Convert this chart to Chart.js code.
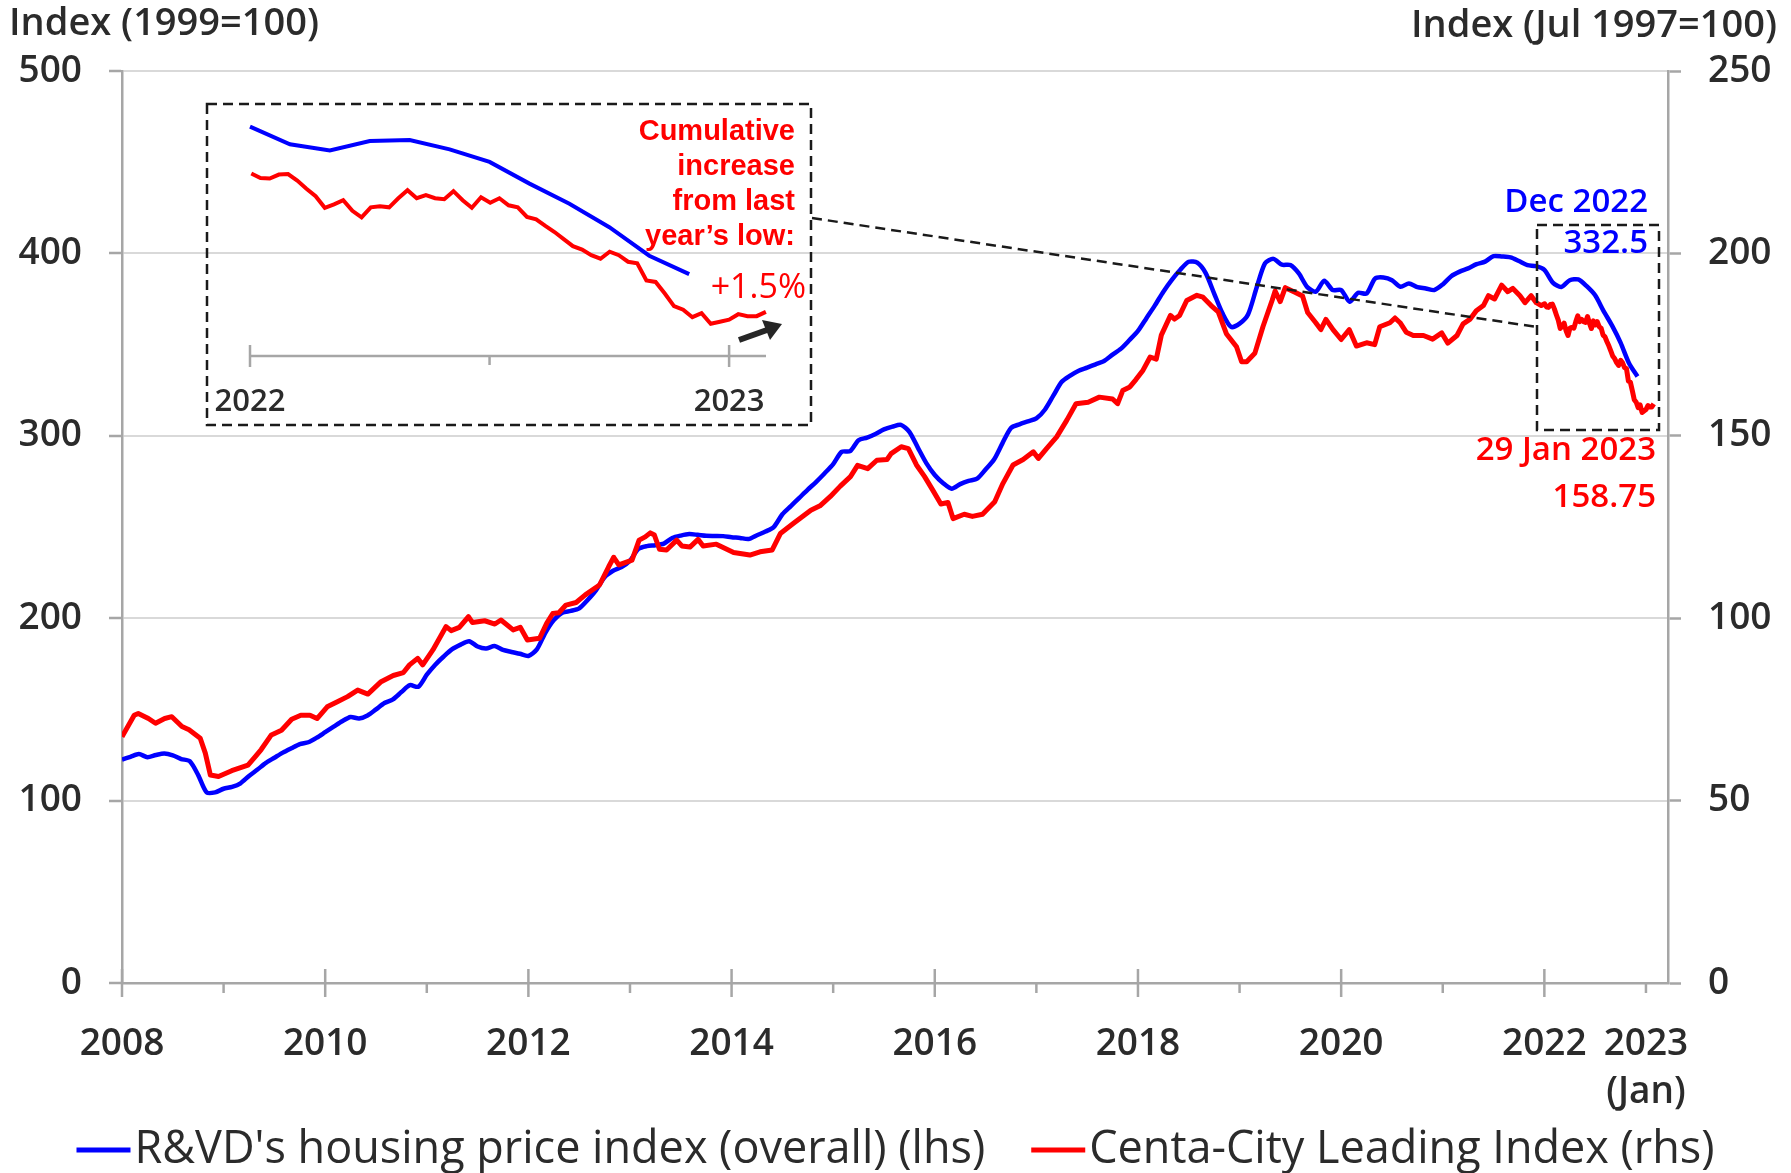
<!DOCTYPE html>
<html lang="en">

<head>
    <meta charset="UTF-8">
    <title>Hong Kong housing price indices</title>
    <script src="https://cdn.jsdelivr.net/npm/chart.js"></script>
    <style>
        body {
            margin: 0;
            background: #ffffff;
        }

        #wrap {
            position: relative;
            width: 1791px;
            height: 1173px;
        }

        #wrap canvas {
            position: absolute;
        }

        #main {
            left: 0;
            top: 0;
        }

        #inset {
            left: 207px;
            top: 104px;
        }
    </style>
</head>

<body>
    <div id="wrap">
        <canvas id="main" width="1791" height="1173"></canvas>
        <canvas id="inset" width="604" height="321"></canvas>
    </div>

    <script>
        // R&VD housing price index (overall), monthly, Jan 2008 - Dec 2022 (lhs, 1999=100)
        const blueStart = 2008;
        const blueValues = [
            122.5, 124, 125.5, 123.8, 125, 125.8, 124.8, 122.8, 121.6, 114, 104.5, 104.5,
            106.5, 107.5, 109.5, 113.5, 117, 120.7, 123.5, 126.3, 128.7, 131, 132, 134.5,
            137.5, 140.5, 143.5, 145.8, 145, 146.7, 150, 153.5, 155.5, 159.5, 163.3, 162.4,
            169, 174.5, 179, 183, 185.5, 187.4, 184.5, 183.4, 184.7, 182.6, 181.5, 180.5,
            179.3, 182.9, 192, 199, 203, 204, 205.4, 210, 215.4, 222.5, 226, 228,
            231.5, 238, 239.5, 240, 240.9, 244, 245.3, 246.1, 245.7, 245.2, 245.1, 245,
            244.4, 244, 243.4, 245.5, 247.5, 250.1, 257, 261.5, 266, 270.5, 274.8, 279.5,
            284.5, 291.2, 291.6, 297.6, 299, 301, 303.5, 305, 306, 302.2, 293.5, 285,
            278.5, 274, 271, 273.5, 275.3, 276.5, 281.5, 287, 296, 304.3, 306.3, 307.9,
            309.5, 314.3, 322, 329.6, 333, 335.7, 337.4, 339.2, 341, 344.5, 347.8, 352.5,
            357.5, 364.5, 371.5, 379, 385.5, 391, 395.4, 394.9, 389.2, 378, 367, 359.7,
            361.5, 366.5, 381, 394.5, 397, 393.8, 393.6, 389, 381.5, 379, 385, 379.9,
            379.9, 373.5, 378.4, 378, 386.2, 386.8, 385.3, 381.7, 383.5, 381.5, 380.8, 379.9,
            383, 387.5, 390, 391.8, 394.1, 395.5, 398.5, 398.3, 397.8, 395.8, 393.6, 393,
            391, 384, 381.6, 385.3, 385.7, 382, 377, 368.4, 360.4, 351.1, 339.8, 332.5
        ];

        // Centa-City Leading Index (rhs, Jul 1997=100), 2008 - 2021 readings (date as year fraction)
        const redX = [
            2008.00, 2008.12, 2008.16, 2008.26, 2008.33, 2008.42, 2008.49, 2008.59, 2008.66, 2008.77,
            2008.82, 2008.87, 2008.95, 2009.08, 2009.24, 2009.31, 2009.37, 2009.47, 2009.57, 2009.67,
            2009.76, 2009.85, 2009.92, 2010.02, 2010.12, 2010.22, 2010.32, 2010.42, 2010.55, 2010.67,
            2010.77, 2010.83, 2010.91, 2010.96, 2011.06, 2011.19, 2011.24, 2011.32, 2011.41, 2011.45,
            2011.57, 2011.67, 2011.73, 2011.85, 2011.92, 2011.99, 2012.11, 2012.18, 2012.24, 2012.30,
            2012.37, 2012.47, 2012.56, 2012.70, 2012.79, 2012.84, 2012.89, 2013.02, 2013.09, 2013.15,
            2013.20, 2013.24, 2013.29, 2013.36, 2013.46, 2013.51, 2013.59, 2013.67, 2013.72, 2013.85,
            2014.02, 2014.18, 2014.28, 2014.40, 2014.48, 2014.61, 2014.78, 2014.87, 2014.97, 2015.07,
            2015.17, 2015.24, 2015.34, 2015.43, 2015.53, 2015.57, 2015.67, 2015.74, 2015.82, 2015.90,
            2015.98, 2016.06, 2016.13, 2016.18, 2016.29, 2016.37, 2016.47, 2016.59, 2016.67, 2016.77,
            2016.87, 2016.97, 2017.02, 2017.10, 2017.20, 2017.30, 2017.39, 2017.51, 2017.62, 2017.75,
            2017.80, 2017.85, 2017.92, 2017.98, 2018.05, 2018.12, 2018.18, 2018.23, 2018.32, 2018.36,
            2018.41, 2018.48, 2018.58, 2018.64, 2018.72, 2018.79, 2018.87, 2018.97, 2019.02, 2019.07,
            2019.15, 2019.23, 2019.32, 2019.35, 2019.40, 2019.45, 2019.55, 2019.62, 2019.67, 2019.75,
            2019.80, 2019.85, 2019.92, 2020.00, 2020.08, 2020.15, 2020.25, 2020.33, 2020.38, 2020.48,
            2020.53, 2020.58, 2020.64, 2020.71, 2020.81, 2020.90, 2020.99, 2021.05, 2021.14, 2021.20,
            2021.27, 2021.33, 2021.40, 2021.45, 2021.51, 2021.58, 2021.64, 2021.69, 2021.76, 2021.81,
            2021.87, 2021.92, 2021.97
        ];
        const redY = [
            67.5, 73.4, 73.9, 72.5, 71.2, 72.5, 73.0, 70.3, 69.4, 67.1,
            63.0, 57.0, 56.6, 58.2, 59.7, 62.0, 64.0, 68.0, 69.3, 72.3,
            73.4, 73.4, 72.5, 75.7, 77.1, 78.5, 80.3, 79.2, 82.6, 84.3,
            85.1, 87.2, 89.0, 87.2, 91.3, 97.7, 96.6, 97.5, 100.4, 98.8,
            99.3, 98.4, 99.5, 96.8, 97.5, 94.0, 94.5, 98.6, 101.3, 101.5,
            103.6, 104.3, 106.4, 109.1, 114.1, 116.7, 114.6, 115.9, 121.4, 122.3,
            123.4, 122.8, 118.9, 118.7, 121.4, 119.8, 119.5, 121.6, 119.8, 120.3,
            118.0, 117.3, 118.2, 118.7, 123.2, 126.0, 129.6, 130.8, 133.3, 136.2,
            138.8, 141.9, 141.0, 143.3, 143.5, 145.1, 147.0, 146.5, 142.0, 138.8,
            135.1, 131.3, 131.7, 127.3, 128.5, 127.9, 128.5, 131.9, 136.9, 142.0,
            143.5, 145.6, 143.8, 146.5, 149.7, 154.3, 158.8, 159.2, 160.6, 160.1,
            158.8, 162.4, 163.4, 165.4, 168.0, 171.6, 171.0, 177.6, 183.0, 182.0,
            183.0, 187.1, 188.5, 188.0, 185.7, 184.0, 178.0, 174.4, 170.3, 170.3,
            172.6, 179.9, 187.1, 189.7, 186.8, 190.6, 189.3, 188.3, 183.8, 181.0,
            179.1, 181.9, 179.1, 176.4, 179.1, 174.6, 175.5, 175.0, 179.9, 181.0,
            182.3, 181.0, 178.4, 177.5, 177.5, 176.5, 178.2, 175.4, 177.5, 180.7,
            182.0, 184.3, 185.7, 188.4, 187.5, 191.3, 189.5, 190.4, 188.4, 186.5,
            188.4, 186.5, 185.7
        ];

        // weekly readings, 2 Jan 2022 to 29 Jan 2023
        const redWeeklyStartDay = 1; // day of year 2022 (2 Jan)
        const redWeekly = [
            186.2, 185.3, 185.2, 186.0, 186.1, 184.8, 183.2, 181.7, 179.4, 180.1,
            180.9, 178.8, 177.5, 179.5, 179.7, 179.5, 181.3, 182.9, 181.3, 181.9,
            181.3, 181.1, 182.7, 180.9, 179.4, 181.5, 180.4, 181.3, 179.9, 179.5,
            177.6, 177.1, 175.8, 174.6, 173.2, 171.8, 171.1, 170.0, 169.3, 170.7,
            170.0, 168.7, 168.4, 165.0, 164.7, 162.4, 159.9, 159.2, 157.7, 158.5,
            156.4, 156.8, 157.2, 158.3, 157.9, 157.9, 158.75
        ];

        const xTicks = [2008, 2009, 2010, 2011, 2012, 2013, 2014, 2015, 2016, 2017, 2018, 2019, 2020, 2021, 2022, 2023];
        const seriesLabels = ["R&VD's housing price index (overall) (lhs)", "Centa-City Leading Index (rhs)"];

        const BLUE = '#0000ff';
        const RED = '#ff0000';
        const AXIS = '#a6a6a6';
        const GRID = '#d9d9d9';
        const TEXT = '#2b2b2b';
        const FONT = '"Open Sans", "Noto Sans", sans-serif';

        const bluePoints = blueValues.map((v, i) => ({ x: blueStart + i / 12, y: v }));
        const redWeeklyPoints = redWeekly.map((v, i) => ({ x: 2022 + (redWeeklyStartDay + 7 * i) / 365, y: v }));
        const redPoints = redX.map((x, i) => ({ x: x, y: redY[i] })).concat(redWeeklyPoints);

        function text(ctx, str, x, y, font, color, align) {
            ctx.font = font;
            ctx.fillStyle = color;
            ctx.textAlign = align || 'left';
            ctx.textBaseline = 'middle';
            ctx.fillText(str, x, y);
        }

        function dashedRect(ctx, x1, y1, x2, y2) {
            ctx.save();
            ctx.strokeStyle = '#1a1a1a';
            ctx.lineWidth = 2.5;
            ctx.setLineDash([10, 6]);
            ctx.strokeRect(x1, y1, x2 - x1, y2 - y1);
            ctx.restore();
        }

        const overlay = {
            id: 'overlay',
            afterDraw(chart) {
                const ctx = chart.ctx;
                const area = chart.chartArea;
                const xs = chart.scales.x;

                // x axis tick marks: long ones at labelled years, short ones between
                ctx.save();
                ctx.strokeStyle = AXIS;
                ctx.lineWidth = 2.5;
                xTicks.forEach(yr => {
                    const px = xs.getPixelForValue(yr);
                    const major = yr % 2 === 0 && yr < 2023;
                    ctx.beginPath();
                    ctx.moveTo(px, major ? area.bottom - 14 : area.bottom);
                    ctx.lineTo(px, area.bottom + (major ? 14 : 10));
                    ctx.stroke();
                });
                ctx.restore();

                // axis titles
                text(ctx, 'Index (1999=100)', 9, 24, '600 38px ' + FONT, TEXT, 'left');
                text(ctx, 'Index (Jul 1997=100)', 1777, 26, '600 38px ' + FONT, TEXT, 'right');

                // inset frame, link line and end-point box
                dashedRect(ctx, 207, 104, 811, 425);
                dashedRect(ctx, 1537, 225, 1659, 430);
                ctx.save();
                ctx.strokeStyle = '#1a1a1a';
                ctx.lineWidth = 2.5;
                ctx.setLineDash([10, 6]);
                ctx.beginPath();
                ctx.moveTo(812, 218);
                ctx.lineTo(1537, 327);
                ctx.stroke();
                ctx.restore();

                // end-point labels
                text(ctx, 'Dec 2022', 1648, 203, '600 33px ' + FONT, BLUE, 'right');
                text(ctx, '332.5', 1648, 244, '600 33px ' + FONT, BLUE, 'right');
                text(ctx, '29 Jan 2023', 1656, 451, '600 33px ' + FONT, RED, 'right');
                text(ctx, '158.75', 1656, 498, '600 33px ' + FONT, RED, 'right');

                // inset note
                const noteFont = 'bold 29px "Liberation Sans", Arial, sans-serif';
                ['Cumulative', 'increase', 'from last', 'year\u2019s low:'].forEach((s, i) => {
                    text(ctx, s, 795, 132 + i * 35, noteFont, RED, 'right');
                });
                text(ctx, '+1.5%', 806, 288, '400 34px ' + FONT, RED, 'right');

                // arrow
                ctx.save();
                ctx.strokeStyle = '#262626';
                ctx.fillStyle = '#262626';
                ctx.lineWidth = 6;
                ctx.beginPath();
                ctx.moveTo(739, 340);
                ctx.lineTo(767, 330);
                ctx.stroke();
                ctx.beginPath();
                ctx.moveTo(782, 324);
                ctx.lineTo(762, 320);
                ctx.lineTo(770, 340);
                ctx.closePath();
                ctx.fill();
                ctx.restore();

                // legend
                const legFont = '500 45px ' + FONT;
                ctx.font = legFont;
                const lineW = 54, gap = 4, itemGap = 46;
                const items = chart.data.datasets.slice().sort((a, b) => a.legendIndex - b.legendIndex);
                const widths = items.map(d => lineW + gap + ctx.measureText(d.label).width);
                const total = widths.reduce((a, b) => a + b, 0) + itemGap * (items.length - 1);
                let lx = chart.width / 2 - total / 2;
                const ly = 1150;
                items.forEach((d, i) => {
                    ctx.save();
                    ctx.strokeStyle = d.borderColor;
                    ctx.lineWidth = 5;
                    ctx.beginPath();
                    ctx.moveTo(lx, ly);
                    ctx.lineTo(lx + lineW, ly);
                    ctx.stroke();
                    ctx.restore();
                    text(ctx, d.label, lx + lineW + gap, ly, legFont, TEXT, 'left');
                    lx += widths[i] + itemGap;
                });
            }
        };

        const tickFont = { family: FONT, size: 37, weight: '600', lineHeight: 1.3 };

        new Chart(document.getElementById('main'), {
            type: 'line',
            data: {
                datasets: [
                    {
                        label: seriesLabels[1],
                        legendIndex: 1,
                        data: redPoints,
                        yAxisID: 'y1',
                        borderColor: RED,
                        backgroundColor: RED,
                        borderWidth: 5,
                        pointRadius: 0,
                        tension: 0,
                        borderJoinStyle: 'round',
                        order: 0
                    },
                    {
                        label: seriesLabels[0],
                        legendIndex: 0,
                        data: bluePoints,
                        yAxisID: 'y',
                        borderColor: BLUE,
                        backgroundColor: BLUE,
                        borderWidth: 4.5,
                        pointRadius: 0,
                        tension: 0.25,
                        borderJoinStyle: 'round',
                        order: 1
                    }
                ]
            },
            options: {
                responsive: false,
                devicePixelRatio: 1,
                animation: false,
                layout: { padding: { top: 71, left: 0, right: 0, bottom: 0 } },
                plugins: {
                    legend: { display: false },
                    tooltip: { enabled: false }
                },
                scales: {
                    x: {
                        type: 'linear',
                        min: 2008,
                        max: 2023.217,
                        afterBuildTicks: s => { s.ticks = xTicks.map(v => ({ value: v })); },
                        afterFit: s => { s.height = 190; },
                        grid: { display: false, drawTicks: false },
                        border: { display: true, color: AXIS, width: 2.5 },
                        ticks: {
                            autoSkip: false,
                            maxRotation: 0,
                            padding: 37,
                            color: TEXT,
                            font: tickFont,
                            callback: v => v === 2023 ? ['2023', '(Jan)'] : (v % 2 === 0 ? String(v) : '')
                        }
                    },
                    y: {
                        position: 'left',
                        min: 0,
                        max: 500,
                        afterFit: s => { s.width = 122; },
                        grid: { color: GRID, lineWidth: 2, tickLength: 13, tickColor: AXIS, tickWidth: 2.5 },
                        border: { display: true, color: AXIS, width: 2.5 },
                        ticks: { stepSize: 100, padding: 27, color: TEXT, font: tickFont }
                    },
                    y1: {
                        position: 'right',
                        min: 0,
                        max: 250,
                        afterFit: s => { s.width = 123; },
                        grid: { drawOnChartArea: false, tickLength: 13, tickColor: AXIS, tickWidth: 2.5 },
                        border: { display: true, color: AXIS, width: 2.5 },
                        ticks: { stepSize: 50, padding: 27, color: TEXT, font: tickFont }
                    }
                }
            },
            plugins: [overlay]
        });

        // inset: 2022 to Jan 2023
        const insetAxis = {
            id: 'insetAxis',
            afterDraw(chart) {
                const ctx = chart.ctx;
                const area = chart.chartArea;
                const xs = chart.scales.x;
                ctx.save();
                ctx.strokeStyle = AXIS;
                ctx.lineWidth = 2.5;
                ctx.beginPath();
                ctx.moveTo(area.left, area.bottom);
                ctx.lineTo(area.right, area.bottom);
                ctx.stroke();
                [[2022, true], [2022.5, false], [2023, true]].forEach(([v, major]) => {
                    const px = xs.getPixelForValue(v);
                    ctx.beginPath();
                    ctx.moveTo(px, major ? area.bottom - 11 : area.bottom);
                    ctx.lineTo(px, area.bottom + (major ? 11 : 9));
                    ctx.stroke();
                });
                ctx.restore();
                text(ctx, '2022', xs.getPixelForValue(2022), 298, '600 31px ' + FONT, TEXT, 'center');
                text(ctx, '2023', xs.getPixelForValue(2023), 298, '600 31px ' + FONT, TEXT, 'center');
            }
        };

        new Chart(document.getElementById('inset'), {
            type: 'line',
            data: {
                datasets: [
                    {
                        data: redWeeklyPoints,
                        yAxisID: 'y1',
                        borderColor: RED,
                        borderWidth: 4,
                        pointRadius: 0,
                        tension: 0,
                        clip: false,
                        order: 0
                    },
                    {
                        data: bluePoints.slice(-12).map(p => ({ x: p.x, y: p.y })),
                        yAxisID: 'y',
                        borderColor: BLUE,
                        borderWidth: 4,
                        pointRadius: 0,
                        tension: 0,
                        clip: false,
                        order: 1
                    }
                ]
            },
            options: {
                responsive: false,
                devicePixelRatio: 1,
                animation: false,
                layout: { padding: { top: 0, left: 43, right: 45, bottom: 69 } },
                plugins: { legend: { display: false }, tooltip: { enabled: false } },
                scales: {
                    x: { type: 'linear', min: 2022, max: 2023.077, display: false },
                    y: { min: 300, max: 400, display: false },
                    y1: { min: 150, max: 200, display: false }
                }
            },
            plugins: [insetAxis]
        });
    </script>
</body>

</html>
